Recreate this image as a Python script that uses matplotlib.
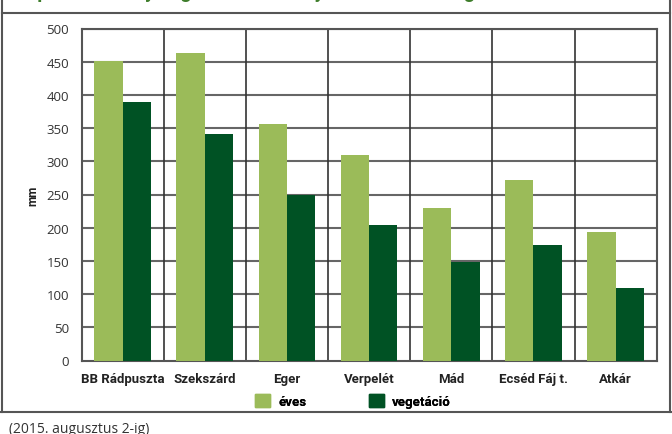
import matplotlib
matplotlib.use("Agg")
import matplotlib.pyplot as plt
from matplotlib.lines import Line2D
from matplotlib.patches import Patch
import numpy as np

categories = ["BB Rádpuszta", "Szekszárd", "Eger", "Verpelét", "Mád", "Ecséd Fáj t.", "Atkár"]
eves = [451, 463, 356, 309, 230, 272, 193]
vegetacio = [389, 341, 250, 204, 148, 174, 109]
yticks = [0, 50, 100, 150, 200, 250, 300, 350, 400, 450, 500]
series_labels = ["éves", "vegetáció"]
title_text = "Csapadék mennyiség a kísérleti helyeken éves és vegetációs időszakban"
footer_text = "(2015. augusztus 2-ig)"

c_eves = "#9BBB59"
c_veg = "#005224"

plt.rcParams['font.family'] = ['Roboto', 'DejaVu Sans']

W, H = 672, 435
fig = plt.figure(figsize=(W / 100, H / 100), dpi=100)

ax = fig.add_axes([81.5 / W, 1 - 361.5 / H, (656.7 - 81.5) / W, (361.5 - 29.5) / H])
x = np.arange(len(categories))
w = 0.345
ax.bar(x - w / 2, eves, width=w, color=c_eves, zorder=3, label=series_labels[0])
ax.bar(x + w / 2, vegetacio, width=w, color=c_veg, zorder=3, label=series_labels[1])

ax.set_xlim(-0.5, len(categories) - 0.5)
ax.set_ylim(0, 500)
ax.set_yticks(yticks)
ax.set_yticklabels([str(v) for v in yticks], fontsize=9.5, color="#333333",
                   family=['Open Sans', 'DejaVu Sans'])
ax.set_xticks(x)
ax.set_xticklabels(categories, fontsize=9.5, fontweight="bold", color="#222222")
ax.tick_params(axis="both", length=0, pad=9)
ax.tick_params(axis="x", pad=8)

for v in yticks[1:]:
    ax.axhline(v, color="#666666", lw=1.5, zorder=1)
for i in range(1, len(categories)):
    ax.axvline(i - 0.5, color="#333333", lw=1.2, zorder=1)
for s in ax.spines.values():
    s.set_color("#555555")
    s.set_linewidth(1.5)

ax.set_ylabel("mm", fontsize=8.5, fontweight="bold", color="#222222", labelpad=5)


def fx(px):
    return px / W


def fy(py):
    return 1 - py / H


colors = [c_eves, c_veg]
leg_x = [252, 366]
for lbl, col, lx in zip(series_labels, colors, leg_x):
    lg = fig.legend([Patch(color=col)], [lbl], loc="center left",
                    bbox_to_anchor=(fx(lx), fy(402)), frameon=False,
                    prop={"weight": "bold", "size": 9.5}, handlelength=1.2,
                    handleheight=1.1, handletextpad=0.6, borderaxespad=0, borderpad=0.2)
    fig.add_artist(lg)

lc = "#555555"
fig.add_artist(Line2D([fx(2), fx(2)], [fy(0), fy(413)], color=lc, lw=1.5))
fig.add_artist(Line2D([fx(670), fx(670)], [fy(0), fy(413)], color=lc, lw=1.5))
fig.add_artist(Line2D([fx(2), fx(670)], [fy(14), fy(14)], color=lc, lw=1.5))
fig.add_artist(Line2D([fx(0), fx(672)], [fy(413), fy(413)], color=lc, lw=1.5))

fig.text(fx(4), fy(-2), title_text, fontsize=14, fontweight="bold", color="#3E7D2B",
         ha="left", va="baseline")
fig.text(fx(9), fy(430), footer_text, fontsize=10, color="#333333", ha="left", va="center",
         family=['Open Sans', 'DejaVu Sans'])

fig.savefig("out.png", dpi=100)
